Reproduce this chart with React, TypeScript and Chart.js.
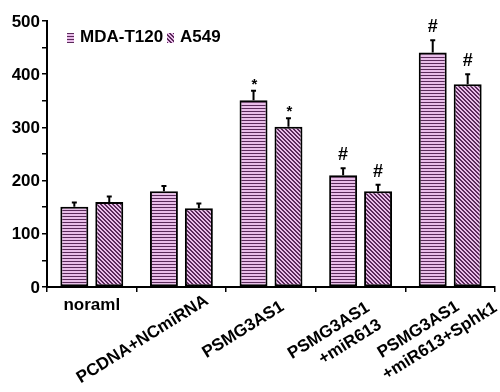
import React, { useEffect, useRef } from "react";
import { Chart, registerables } from "chart.js";

Chart.register(...registerables);

// ---- data ----
const categories: string[][] = [
  ["noraml"],
  ["PCDNA+NCmiRNA"],
  ["PSMG3AS1"],
  ["PSMG3AS1", "+miR613"],
  ["PSMG3AS1", "+miR613+Sphk1"],
];
const seriesNames = ["MDA-T120", "A549"];
const mdaValues = [151, 180, 351, 210, 441];
const mdaErrors = [8, 10, 18, 13, 23];
const a549Values = [160, 148, 301, 180, 381];
const a549Errors = [10, 9, 16, 12, 19];
const mdaMarks = ["", "", "*", "#", "#"];
const a549Marks = ["", "", "*", "#", "#"];
const yTickLabels = [0, 100, 200, 300, 400, 500];
const yTicks = { min: 0, max: 500, minor: 50 };

// ---- styling ----
const FONT = '"Liberation Sans", Arial, Helvetica, sans-serif';
const PINK = "#e9bde9";
const DARK = "#5a2a5a";
const labelAngle = [0, 32, 32, 32, 32];
const labelDx = [0, 21, 7, 3, 3];
const labelTop = [297, 292, 298, 299, 298];

function makePattern(kind: "h" | "d"): CanvasPattern | string {
  const c = document.createElement("canvas");
  if (kind === "h") {
    c.width = 4;
    c.height = 3;
    const g = c.getContext("2d")!;
    g.fillStyle = PINK;
    g.fillRect(0, 0, 4, 3);
    g.fillStyle = DARK;
    g.fillRect(0, 0, 4, 1);
  } else {
    c.width = 4;
    c.height = 4;
    const g = c.getContext("2d")!;
    g.fillStyle = PINK;
    g.fillRect(0, 0, 4, 4);
    g.fillStyle = DARK;
    for (let y = 0; y < 4; y++) {
      g.fillRect(y, y, 1, 1);
      g.fillRect((y + 1) % 4, y, 1, 1);
    }
  }
  const ctx = c.getContext("2d")!;
  return ctx.createPattern(c, "repeat") || PINK;
}

export default function App() {
  const ref = useRef<HTMLCanvasElement | null>(null);

  useEffect(() => {
    if (!ref.current) return;
    const hPat = makePattern("h");
    const dPat = makePattern("d");
    const errs = [mdaErrors, a549Errors];
    const vals = [mdaValues, a549Values];
    const marks = [mdaMarks, a549Marks];
    const pats = [hPat, dPat];

    const extras = {
      id: "extras",
      afterDatasetsDraw(chart: any) {
        const ctx = chart.ctx as CanvasRenderingContext2D;
        const ys = chart.scales.y;
        const xs = chart.scales.x;
        ctx.save();
        // error bars + marks
        for (let d = 0; d < 2; d++) {
          const meta = chart.getDatasetMeta(d);
          meta.data.forEach((bar: any, j: number) => {
            const top = ys.getPixelForValue(vals[d][j] + errs[d][j]);
            ctx.strokeStyle = "#000";
            ctx.lineWidth = 2;
            ctx.beginPath();
            ctx.moveTo(bar.x, bar.y);
            ctx.lineTo(bar.x, top);
            ctx.moveTo(bar.x - 2.5, top);
            ctx.lineTo(bar.x + 2.5, top);
            ctx.stroke();
            const m = marks[d][j];
            if (m) {
              ctx.fillStyle = "#000";
              ctx.textAlign = "center";
              ctx.textBaseline = "middle";
              if (m === "*") {
                ctx.font = `bold 15px ${FONT}`;
                ctx.fillText(m, bar.x + 1, top - 6);
              } else {
                ctx.font = `bold 18px ${FONT}`;
                ctx.fillText(m, bar.x, top - 13);
              }
            }
          });
        }
        // y labels
        ctx.fillStyle = "#000";
        ctx.font = `bold 17px ${FONT}`;
        ctx.textAlign = "right";
        ctx.textBaseline = "middle";
        yTickLabels.forEach((v) => {
          ctx.fillText(String(v), ys.left + ys.width - 7, ys.getPixelForValue(v) + 1);
        });
        // x labels
        categories.forEach((lines, i) => {
          const cx = xs.getPixelForValue(i);
          const ang = labelAngle[i];
          if (ang === 0) {
            ctx.textAlign = "center";
            ctx.textBaseline = "top";
            lines.forEach((ln, k) => ctx.fillText(ln, cx + labelDx[i], labelTop[i] + k * 20));
            return;
          }
          const L1 = ctx.measureText(lines[0]).width;
          ctx.save();
          ctx.translate(cx + labelDx[i], labelTop[i]);
          ctx.rotate((-ang * Math.PI) / 180);
          ctx.textAlign = "center";
          ctx.textBaseline = "top";
          lines.forEach((ln, k) => {
            ctx.fillText(ln, -L1 / 2 + k * 12, k * 21);
          });
          ctx.restore();
        });
        // legend
        const legendX = [67, 167];
        const textX = [80, 180];
        ctx.textAlign = "left";
        ctx.textBaseline = "middle";
        for (let d = 0; d < 2; d++) {
          ctx.fillStyle = pats[d] as any;
          ctx.fillRect(legendX[d], 33, 7, 10);
          ctx.fillStyle = "#000";
          ctx.fillText(seriesNames[d], textX[d], 37);
        }
        ctx.restore();
      },
    };

    const chart = new Chart(ref.current, {
      type: "bar",
      data: {
        labels: categories.map((c) => c.join(" ")),
        datasets: [
          {
            label: seriesNames[0],
            data: mdaValues,
            backgroundColor: hPat as any,
            borderColor: "#000",
            borderWidth: 2,
            borderSkipped: false,
            categoryPercentage: 0.78,
            barPercentage: 0.8,
          },
          {
            label: seriesNames[1],
            data: a549Values,
            backgroundColor: dPat as any,
            borderColor: "#000",
            borderWidth: 2,
            borderSkipped: false,
            categoryPercentage: 0.78,
            barPercentage: 0.8,
          },
        ],
      },
      options: {
        animation: false,
        responsive: true,
        maintainAspectRatio: false,
        layout: { padding: { top: 21, right: 5, left: 0, bottom: 0 } },
        plugins: { legend: { display: false }, tooltip: { enabled: false } },
        scales: {
          x: {
            offset: true,
            grid: {
              display: true,
              drawOnChartArea: false,
              offset: true,
              tickLength: 5,
              color: "#000",
              lineWidth: 1.5,
            },
            border: { display: true, color: "#000", width: 2 },
            ticks: { display: false },
            afterFit: (s: any) => {
              s.height = 105;
            },
          },
          y: {
            min: yTicks.min,
            max: yTicks.max,
            grid: {
              drawOnChartArea: false,
              tickLength: 5,
              color: "#000",
              lineWidth: 1.5,
            },
            border: { display: true, color: "#000", width: 2 },
            ticks: { stepSize: yTicks.minor, display: false },
            afterFit: (s: any) => {
              s.width = 47;
            },
          },
        },
      },
      plugins: [extras],
    });
    return () => chart.destroy();
  }, []);

  return (
    <div style={{ position: "fixed", left: 0, top: 0, width: 500, height: 392, background: "#fff" }}>
      <canvas ref={ref} />
    </div>
  );
}
